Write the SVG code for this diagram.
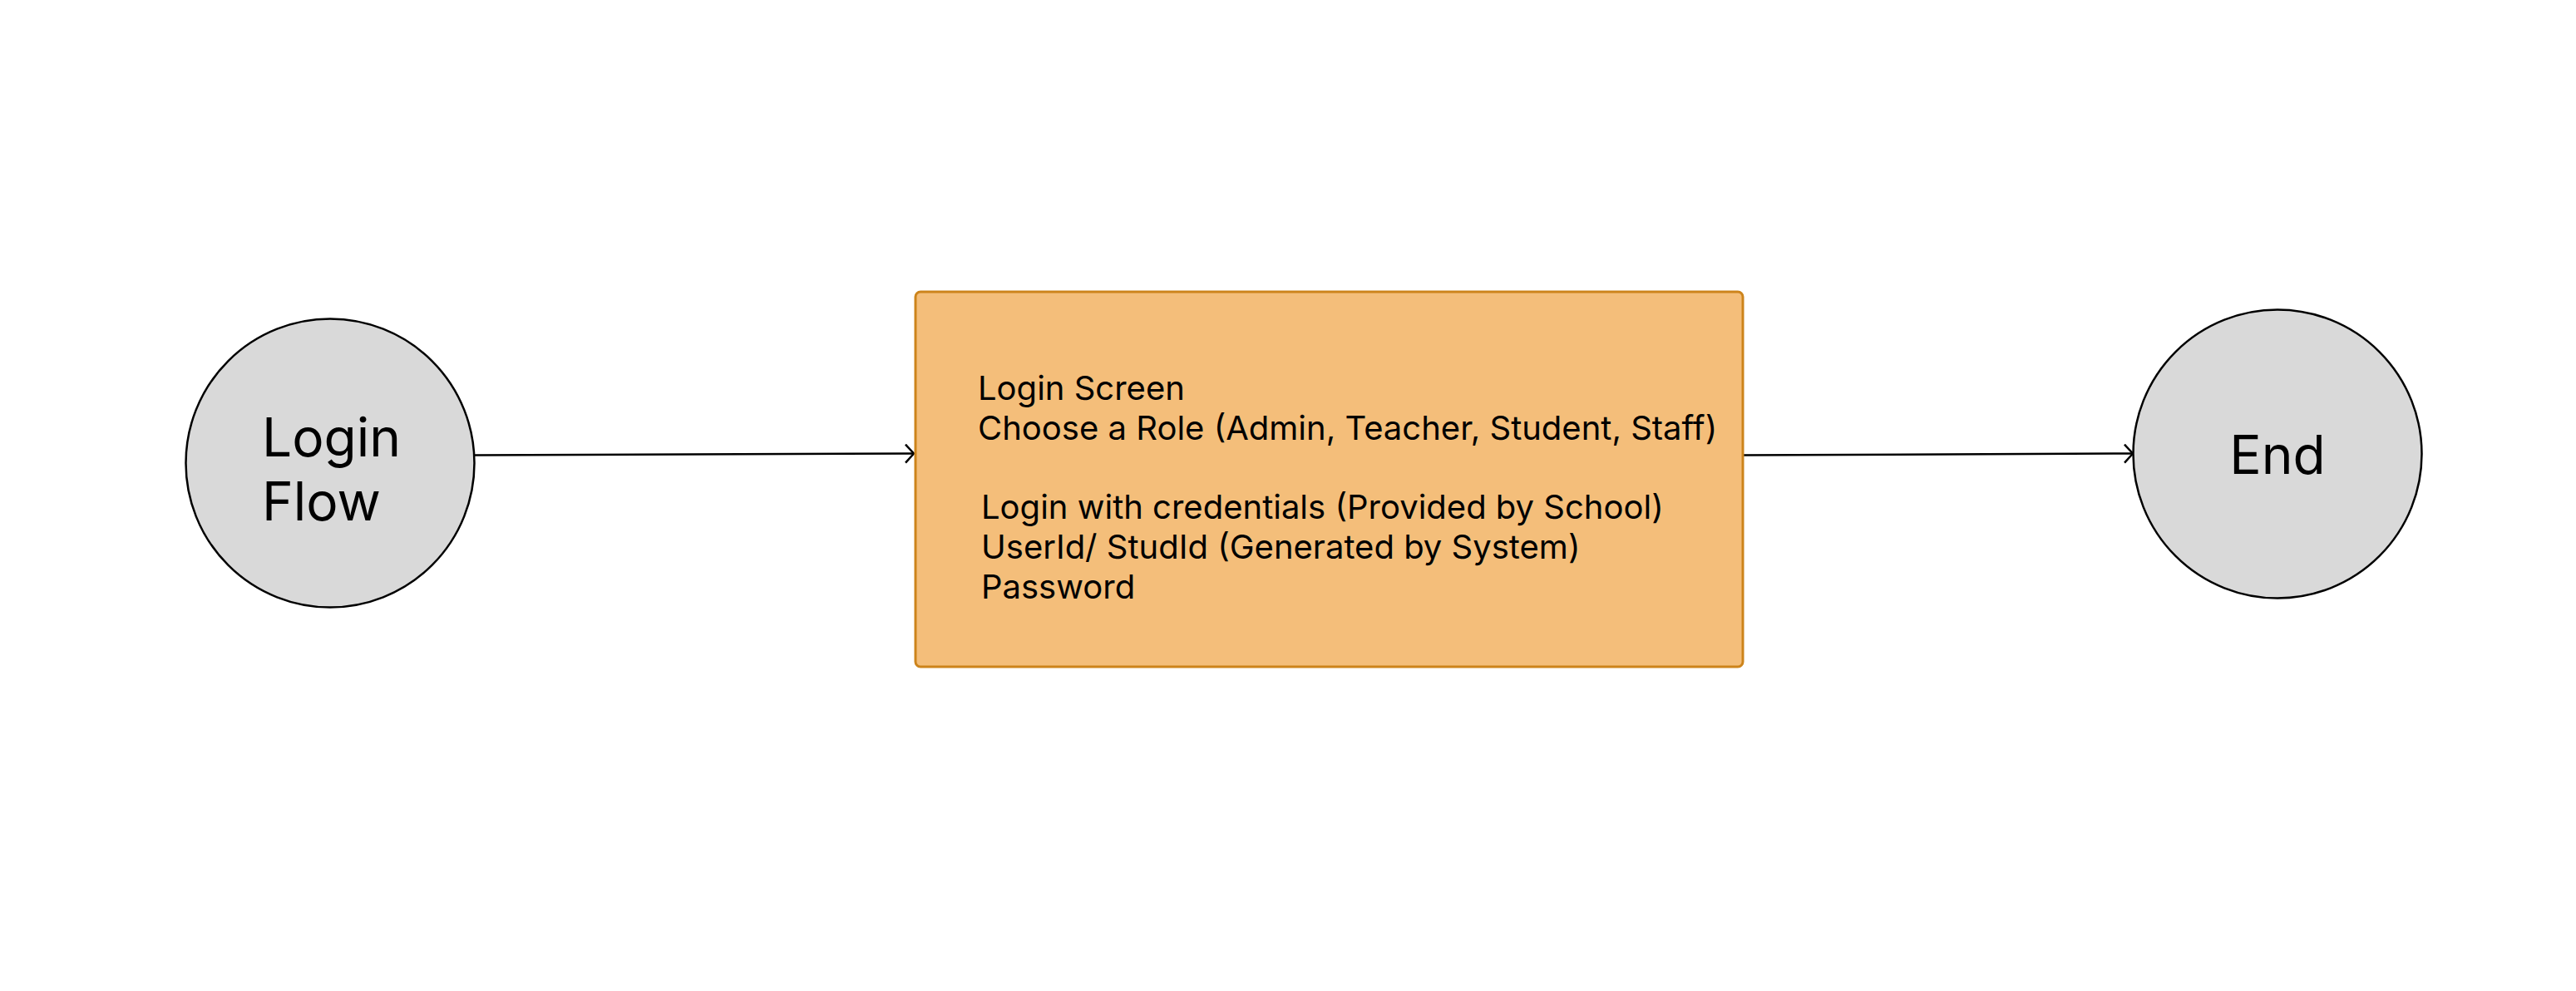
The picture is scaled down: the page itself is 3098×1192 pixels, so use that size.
<svg xmlns="http://www.w3.org/2000/svg" width="3098" height="1192" viewBox="0 0 3098 1192">
<style>
  .circ { fill: #D9D9D9; stroke: #000; stroke-width: 2.5; }
  .box { fill: #F4BE7A; stroke: #CD841B; stroke-width: 3; }
  .big { font-family: Inter, "Liberation Sans", sans-serif; font-size: 64px; fill: #000; }
  .txt { font-family: Inter, "Liberation Sans", sans-serif; font-size: 40px; fill: #000; }
  .conn { fill: none; stroke: #000; stroke-width: 2.5; }
</style>
<defs>
  <marker id="arrow" viewBox="0 0 12 24" refX="11" refY="12" markerWidth="12" markerHeight="24" markerUnits="userSpaceOnUse" orient="auto">
    <path d="M1,1 L11,12 L1,23" fill="none" stroke="#000" stroke-width="2.5"/>
  </marker>
</defs>
<rect width="3098" height="1192" fill="#fff"/>
<g id="connectors">
  <path class="conn" d="M571,547.5 L1099,545.5" marker-end="url(#arrow)"/>
  <path class="conn" d="M2093,547.5 L2565,545.5" marker-end="url(#arrow)"/>
</g>
<g id="node-login-flow">
  <circle class="circ" cx="397" cy="557" r="173.5"/>
  <text class="big" x="315" y="549">Login</text>
  <text class="big" x="315" y="626">Flow</text>
</g>
<g id="node-login-screen">
  <rect class="box" x="1101" y="351" width="995" height="451" rx="6" ry="6"/>
  <text class="txt" x="1176" y="481">Login Screen</text>
  <text class="txt" x="1176" y="529">Choose a Role (Admin, Teacher, Student, Staff)</text>
  <text class="txt" x="1180" y="624">Login with credentials (Provided by School)</text>
  <text class="txt" x="1180" y="672">UserId/ StudId (Generated by System)</text>
  <text class="txt" x="1180" y="720">Password</text>
</g>
<g id="node-end">
  <circle class="circ" cx="2739" cy="546" r="173.5"/>
  <text class="big" x="2739" y="570" text-anchor="middle">End</text>
</g>
</svg>
